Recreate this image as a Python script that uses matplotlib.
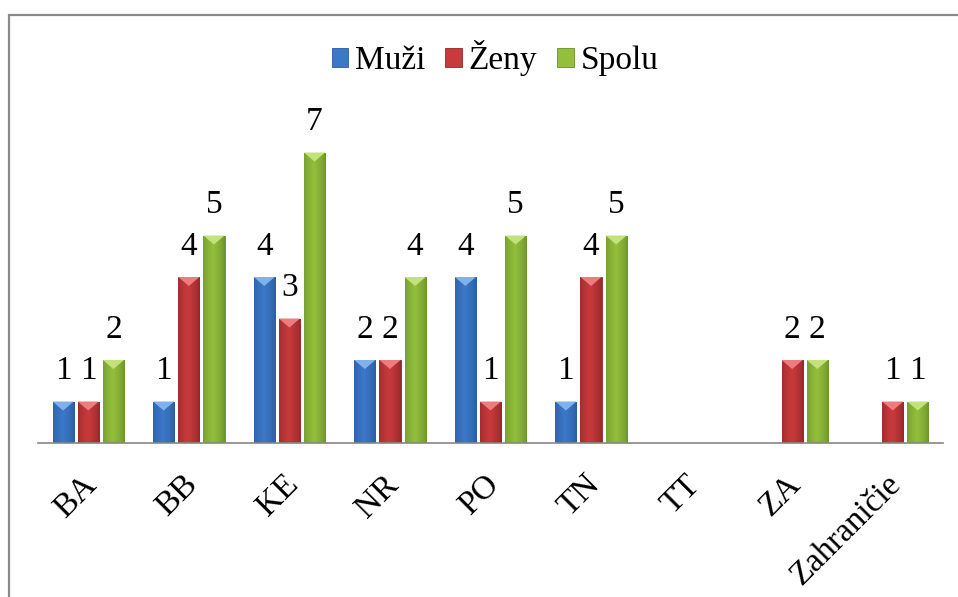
import numpy as np
import matplotlib
matplotlib.use("Agg")
from matplotlib import pyplot as plt
from matplotlib.patches import Rectangle, Polygon
from matplotlib.colors import to_rgb
import matplotlib.transforms as mtransforms

# data
kraje = ["BA", "BB", "KE", "NR", "PO", "TN", "TT", "ZA", "Zahraničie"]
muzi = [1, 1, 4, 2, 4, 1, 0, 0, 0]
zeny = [1, 4, 3, 2, 1, 4, 0, 2, 1]
spolu = [2, 5, 7, 4, 5, 5, 0, 2, 1]

serie = ["Muži", "Ženy", "Spolu"]
farby = ["#3b78c8", "#c83a3c", "#92bf3c"]
tmave = ["#2a5a9c", "#902628", "#6a8f2a"]
svetle = ["#7fb2ec", "#ee7c7e", "#c2e27a"]

plt.rcParams["font.family"] = ["Liberation Serif", "DejaVu Serif"]

fig = plt.figure(figsize=(9.58, 5.97), dpi=100)
W, H = 958, 597
ax = fig.add_axes([38 / W, (597 - 443) / H, (943 - 38) / W, 332 / H])

# outer chart frame (only left and top visible in the crop)
fig.patches.append(Rectangle((9 / W, -0.1), 1.2, (597 - 15) / H + 0.1,
                             transform=fig.transFigure, fill=False,
                             edgecolor="#8a8a8a", linewidth=1.6))


def gradient(c_dark, c_mid):
    # horizontal shading: dark edge -> light middle -> dark edge
    t = np.linspace(0, 1, 64)
    k = 1 - np.abs(t - 0.45) / 0.55
    k = np.clip(k, 0, 1) ** 0.6
    d = np.array(to_rgb(c_dark))
    m = np.array(to_rgb(c_mid))
    return (d[None, :] * (1 - k[:, None]) + m[None, :] * k[:, None])[None, :, :]


x = np.arange(len(kraje))
sirka = 0.21
krok = 0.25
px = 9 / 41.5  # height of top bevel in data units
for i, (hodnoty, meno) in enumerate(zip([muzi, zeny, spolu], serie)):
    pos = x + (i - 1) * krok
    bars = ax.bar(pos, hodnoty, sirka, color=farby[i], edgecolor=tmave[i],
                  linewidth=0.6, label=meno)
    grad = gradient(tmave[i], farby[i])
    for b in bars:
        h = b.get_height()
        if h <= 0:
            continue
        x0 = b.get_x()
        x1 = x0 + b.get_width()
        im = ax.imshow(grad, extent=[x0, x1, 0, h], aspect="auto",
                       interpolation="bilinear", zorder=2)
        im.set_clip_path(b)
        ax.add_patch(Polygon([[x0, h], [x1, h], [(x0 + x1) / 2, h - px]],
                             closed=True, facecolor=svetle[i],
                             edgecolor="none", zorder=3))
    texty = [str(v) if v > 0 else "" for v in hodnoty]
    ax.bar_label(bars, labels=texty, padding=11, fontsize=24)

ax.set_xlim(-0.5, len(kraje) - 0.5)
ax.set_ylim(0, 8)
ax.set_yticks([])
ax.set_xticks(x)
ax.set_xticklabels(kraje, rotation=45, ha="right", va="top",
                   rotation_mode="anchor", fontsize=24)
ax.tick_params(axis="x", length=0, pad=8)
posun = mtransforms.ScaledTranslation(-7 / 100, -15 / 100, fig.dpi_scale_trans)
for lbl in ax.get_xticklabels():
    lbl.set_transform(lbl.get_transform() + posun)
for s in ["top", "right", "left"]:
    ax.spines[s].set_visible(False)
ax.spines["bottom"].set_color("#868686")
ax.spines["bottom"].set_linewidth(1.2)

fig.legend(loc="center", bbox_to_anchor=(495 / W, 1 - 58 / H), ncol=3,
           frameon=False, fontsize=24, handlelength=0.5, handleheight=0.5,
           handletextpad=0.2, columnspacing=0.6)

fig.savefig("out.png", dpi=100)
